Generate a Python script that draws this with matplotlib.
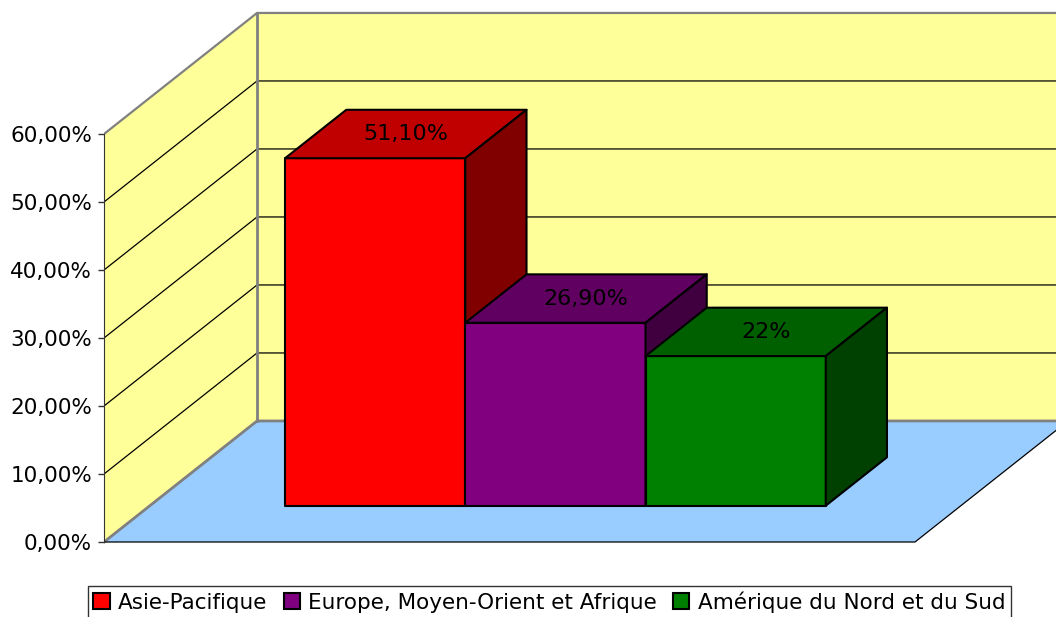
import matplotlib
matplotlib.use("Agg")
import matplotlib.pyplot as plt
from matplotlib.patches import Polygon, Patch

# data
series = ["Asie-Pacifique", "Europe, Moyen-Orient et Afrique", "Amérique du Nord et du Sud"]
values = [51.1, 26.9, 22.0]
value_labels = ["51,10%", "26,90%", "22%"]
yticks = [0, 10, 20, 30, 40, 50, 60]

FRONT = ["#FF0000", "#800080", "#008000"]
TOP = ["#C00000", "#600060", "#006000"]
SIDE = ["#800000", "#400040", "#004000"]
WALL = "#FFFF99"
FLOOR = "#99CCFF"
EDGE = "#808080"

# oblique projection: full depth shifts by (DX, DY) in data units
DX, DY = 0.1887, 17.8
YMAX = yticks[-1]
GAP = 1.5                                   # gap width 150 %
BW = 1.0 / (len(series) + GAP)              # bar width in category units
D0, D1 = 0.3, 0.7                           # bar depth range (fraction of floor depth)


def proj(x, y, d):
    return (x + d * DX, y + d * DY)


fig = plt.figure(figsize=(10.56, 6.17), dpi=100)
ax = fig.add_axes([104 / 1056, 0, 952 / 1056, 1])
ax.set_xlim(0, 952 / 811)
ax.set_ylim(-75 / 6.8, 542 / 6.8)

# walls and floor
ax.add_patch(Polygon([proj(0, 0, 1), proj(1, 0, 1), proj(1, YMAX, 1), proj(0, YMAX, 1)],
                     fc=WALL, ec="none", zorder=1))
ax.add_patch(Polygon([proj(0, 0, 0), proj(0, 0, 1), proj(0, YMAX, 1), proj(0, YMAX, 0)],
                     fc=WALL, ec="none", zorder=1))
ax.add_patch(Polygon([proj(0, 0, 0), proj(1, 0, 0), proj(1, 0, 1), proj(0, 0, 1)],
                     fc=FLOOR, ec="none", zorder=1))

# gridlines on left and back wall
for v in yticks[1:-1]:
    ax.plot(*zip(proj(0, v, 0), proj(0, v, 1), proj(1, v, 1)), color="black", lw=0.9, zorder=2)

# wall edges
ax.plot(*zip(proj(0, YMAX, 0), proj(0, YMAX, 1), proj(1, YMAX, 1)), color=EDGE, lw=1.6, zorder=2)
ax.plot(*zip(proj(0, 0, 0), proj(0, 0, 1), proj(1, 0, 1)), color=EDGE, lw=2.0, zorder=2)
ax.plot(*zip(proj(0, 0, 1), proj(0, YMAX, 1)), color=EDGE, lw=2.0, zorder=2)
ax.plot(*zip(proj(0, 0, 0), proj(1, 0, 0), proj(1, 0, 1)), color="black", lw=0.9, zorder=2)

# bars (single category, series clustered in the middle)
x0 = 0.5 - len(series) * BW / 2
for i, (v, lab) in enumerate(zip(values, value_labels)):
    xl, xr = x0 + i * BW, x0 + (i + 1) * BW
    front = [proj(xl, 0, D0), proj(xr, 0, D0), proj(xr, v, D0), proj(xl, v, D0)]
    top = [proj(xl, v, D0), proj(xr, v, D0), proj(xr, v, D1), proj(xl, v, D1)]
    side = [proj(xr, 0, D0), proj(xr, 0, D1), proj(xr, v, D1), proj(xr, v, D0)]
    for poly, fc in ((front, FRONT[i]), (top, TOP[i]), (side, SIDE[i])):
        ax.add_patch(Polygon(poly, fc=fc, ec="black", lw=1.5, joinstyle="round", zorder=3 + i))
    cx, cy = proj((xl + xr) / 2, v, (D0 + D1) / 2)
    ax.text(cx, cy, lab, ha="center", va="center", fontsize=16, color="black", zorder=10)

# value axis on the front-left edge
for s in ("top", "right", "bottom"):
    ax.spines[s].set_visible(False)
ax.spines["left"].set_bounds(0, YMAX)
ax.spines["left"].set_color("#333333")
ax.spines["left"].set_zorder(5)
ax.set_xticks([])
ax.set_yticks(yticks)
ax.set_yticklabels([f"{v:.2f}%".replace(".", ",") for v in yticks], fontsize=15.5)
ax.tick_params(axis="y", direction="out", length=4.5, width=1, color="#333333", pad=4.0)
ax.patch.set_visible(False)

handles = [Patch(fc=c, ec="black", lw=1.5, label=s) for c, s in zip(FRONT, series)]
leg = fig.legend(handles=handles, loc="upper left", bbox_to_anchor=(88 / 1056, 1 - 586 / 617),
                 ncol=3, fontsize=15.5, frameon=True, fancybox=False, borderaxespad=0,
                 handlelength=0.75, handleheight=0.75, handletextpad=0.4, columnspacing=0.75,
                 borderpad=0.25)
leg.get_frame().set_edgecolor("black")
leg.get_frame().set_linewidth(1.0)

fig.savefig("out.png", dpi=100)
